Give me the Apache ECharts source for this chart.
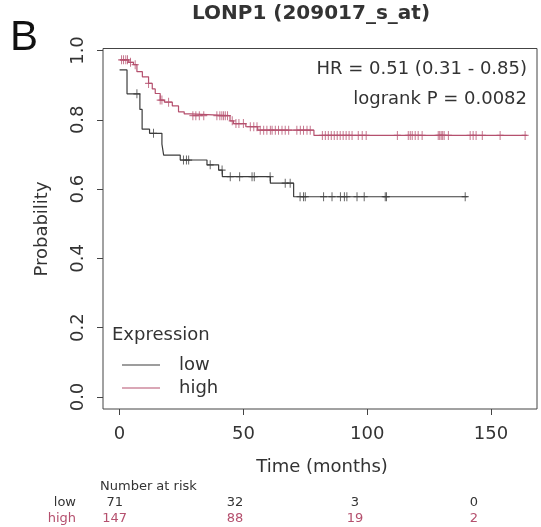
<!DOCTYPE html>
<html>
<head>
<meta charset="utf-8">
<script src="https://cdn.jsdelivr.net/npm/echarts@6/dist/echarts.min.js"></script>
<style>html,body{margin:0;padding:0;background:#fff;}#c{width:541px;height:527px;}</style>
</head>
<body>
<div id="c"></div>
<script>
// ---- data ----
var lowTime  = [0, 3.0, 8.2, 9.1, 12.1, 17.1, 17.8, 24.5, 35.3, 40.0, 41.5, 60.9, 70.3, 140.5];
var lowSurv  = [0.944, 0.875, 0.83, 0.773, 0.761, 0.73, 0.698, 0.684, 0.670, 0.655, 0.636, 0.617, 0.578, 0.578];
var highTime = [0, 3.7, 5.6, 7.0, 9.2, 11.7, 13.2, 14.4, 16.4, 18.1, 21.3, 23.8, 26.1, 28.6, 44.6, 46.0, 51.0, 55.8, 78.5, 164.5];
var highSurv = [0.973, 0.966, 0.959, 0.939, 0.924, 0.905, 0.889, 0.876, 0.857, 0.851, 0.840, 0.823, 0.817, 0.812, 0.797, 0.789, 0.780, 0.770, 0.755, 0.755];
var lowCensor = [7.0, 13.7, 25.8, 27.0, 27.9, 36.6, 41.4, 44.7, 48.5, 53.5, 54.4, 60.8, 66.9, 68.9, 72.9, 74.3, 75.0, 82.4, 85.8, 89.2, 90.8, 91.8, 95.9, 98.8, 107.3, 107.8, 139.6];
var highCensor = [0.8, 1.6, 2.5, 3.2, 4.4, 6.3, 11.7, 16.4, 17.1, 19.8, 29.6, 30.8, 32.2, 34.0, 39.3, 40.5, 41.3, 42.0, 42.7, 43.6, 45.5, 47.0, 48.2, 50.0, 52.8, 54.2, 55.5, 56.8, 58.2, 59.5, 60.9, 61.6, 62.9, 64.2, 65.6, 66.9, 68.3, 71.6, 73.0, 74.3, 75.7, 77.0, 81.9, 83.1, 84.3, 85.5, 86.7, 87.9, 89.1, 90.3, 91.5, 92.7, 93.9, 96.4, 98.0, 99.6, 112.2, 116.6, 117.4, 118.2, 119.4, 120.6, 122.2, 128.7, 129.3, 129.9, 130.5, 131.1, 132.8, 141.6, 142.8, 144.0, 146.5, 153.7, 163.8];
var xTicks = [0, 50, 100, 150];
var yTicks = [0, 0.2, 0.4, 0.6, 0.8, 1.0];
var groupNames = ['low', 'high'];
var lowRisk = [71, 32, 3, 0];
var highRisk = [147, 88, 19, 2];
var titleText = 'LONP1 (209017_s_at)';
var hrText = 'HR = 0.51 (0.31 - 0.85)';
var pText = 'logrank P = 0.0082';

// ---- styles ----
var LOWC = '#3c3c3c', HIGHC = '#b5506e', TXT = '#333333', AX = '#444444';
var FONT = 'DejaVu Sans';

function survAt(times, surv, t) {
  var v = surv[0];
  for (var i = 0; i < times.length; i++) { if (times[i] <= t) v = surv[i]; }
  return v;
}
function pairs(a, b) { return a.map(function (t, i) { return [t, b[i]]; }); }
function censorPts(c, times, surv) { return c.map(function (t) { return [t, survAt(times, surv, t)]; }); }

var plus = 'path://M5,0 L5,10 M0,5 L10,5';

var chart = echarts.init(document.getElementById('c'), null, {renderer: 'canvas'});

var riskX = [114.7, 235, 355, 474];
var graphics = [];
function txt(s, x, y, size, opts) {
  opts = opts || {};
  return {
    type: 'text', x: x, y: y, rotation: opts.rotation || 0, silent: true,
    style: {
      text: s, x: 0, y: 0, fill: opts.fill || TXT,
      font: (opts.weight || 'normal') + ' ' + size + 'px "' + (opts.family || FONT) + '"',
      align: opts.align || 'center', verticalAlign: opts.valign || 'middle'
    }
  };
}
graphics.push(txt(titleText, 311, 14, 20, {weight: 'bold'}));
graphics.push(txt('B', 10, 38, 42, {align: 'left', family: 'Liberation Sans', fill: '#111'}));
graphics.push(txt(hrText, 527, 69, 18, {align: 'right'}));
graphics.push(txt(pText, 527, 99, 18, {align: 'right'}));
graphics.push(txt('Probability', 42, 229, 18, {rotation: Math.PI / 2}));
graphics.push(txt('Time (months)', 322, 467, 18));
// legend
graphics.push(txt('Expression', 112, 335, 18, {align: 'left'}));
graphics.push({type: 'line', silent: true, shape: {x1: 122, y1: 365, x2: 160, y2: 365}, style: {stroke: LOWC, lineWidth: 1.2}});
graphics.push({type: 'line', silent: true, shape: {x1: 122, y1: 388, x2: 160, y2: 388}, style: {stroke: HIGHC, lineWidth: 1.2}});
graphics.push(txt(groupNames[0], 179, 365, 18, {align: 'left'}));
graphics.push(txt(groupNames[1], 179, 388, 18, {align: 'left'}));
// number at risk
graphics.push(txt('Number at risk', 100, 487, 13, {align: 'left'}));
graphics.push(txt(groupNames[0], 76, 503, 13, {align: 'right'}));
graphics.push(txt(groupNames[1], 76, 519, 13, {align: 'right', fill: HIGHC}));
for (var i = 0; i < riskX.length; i++) {
  graphics.push(txt(String(lowRisk[i]), riskX[i], 503, 13));
  graphics.push(txt(String(highRisk[i]), riskX[i], 519, 13, {fill: HIGHC}));
}

var option = {
  animation: false,
  backgroundColor: '#ffffff',
  grid: {left: 103, right: 4, top: 48.5, bottom: 118, show: true, borderColor: AX, borderWidth: 1, backgroundColor: 'transparent'},
  xAxis: {
    type: 'value', min: -6.7, max: 168.6,
    axisLine: {show: false, onZero: false}, splitLine: {show: false},
    axisTick: {show: true, customValues: xTicks, length: 6, inside: false, lineStyle: {color: AX}},
    axisLabel: {customValues: xTicks, fontSize: 18, fontFamily: FONT, color: TXT, margin: 16}
  },
  yAxis: {
    type: 'value', min: -0.0346, max: 1.0058,
    axisLine: {show: false, onZero: false}, splitLine: {show: false},
    axisTick: {show: true, customValues: yTicks, length: 6, inside: false, lineStyle: {color: AX}},
    axisLabel: {customValues: yTicks, fontSize: 18, fontFamily: FONT, color: TXT, margin: 16, rotate: 90,
      formatter: function (v) { return v.toFixed(1); }}
  },
  series: [
    {type: 'line', step: 'end', data: pairs(lowTime, lowSurv), symbol: 'none', lineStyle: {color: LOWC, width: 1.2}, z: 3},
    {type: 'line', step: 'end', data: pairs(highTime, highSurv), symbol: 'none', lineStyle: {color: HIGHC, width: 1.2}, z: 3},
    {type: 'scatter', data: censorPts(lowCensor, lowTime, lowSurv), symbol: plus, symbolSize: [7, 9],
      itemStyle: {color: 'none', borderColor: LOWC, borderWidth: 1.1}, z: 4},
    {type: 'scatter', data: censorPts(highCensor, highTime, highSurv), symbol: plus, symbolSize: [7, 9],
      itemStyle: {color: 'none', borderColor: HIGHC, borderWidth: 1.1}, z: 4}
  ],
  graphic: graphics
};
chart.setOption(option);
</script>
</body>
</html>
